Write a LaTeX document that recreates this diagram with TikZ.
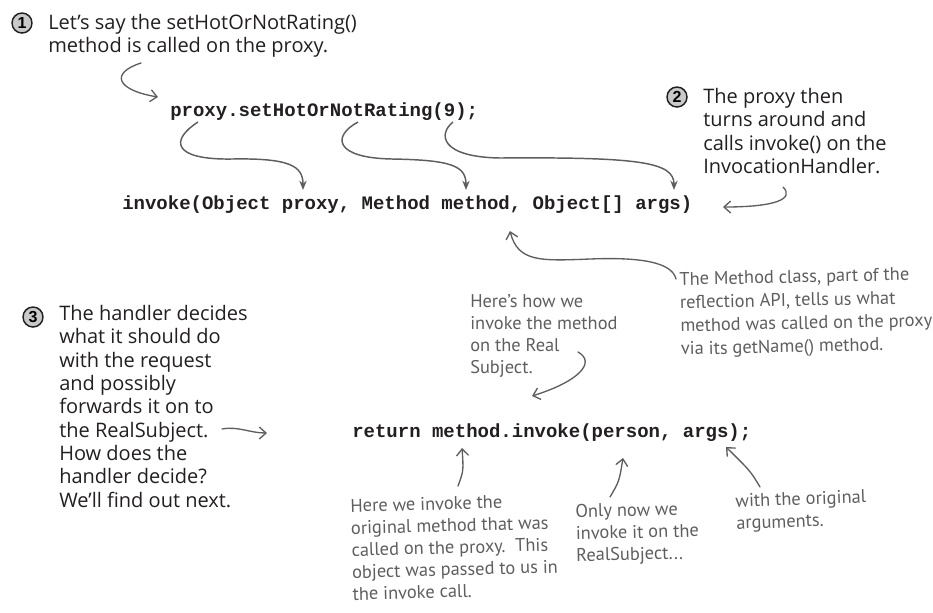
\documentclass[tikz,border=0pt]{standalone}
\usepackage{fontspec}
\usepackage{tikz}
\usetikzlibrary{arrows.meta,calc}
\setmainfont{Open Sans}
\setmonofont{Liberation Mono}
\newfontfamily\handfont{PT Sans}
\newfontfamily\stepfont{Liberation Sans}

\begin{document}
\begin{tikzpicture}[x=0.75pt,y=-0.75pt]

\definecolor{noteink}{HTML}{231F20}
\definecolor{handink}{HTML}{5E5E5E}
\definecolor{stepfill}{HTML}{C9C9C9}

\tikzset{
  stepmark/.style={
    circle, draw=noteink, fill=stepfill, line width=1.1pt,
    minimum size=15pt, inner sep=0pt, font=\stepfont\bfseries\fontsize{12}{12}\selectfont
  },
  notetext/.style={
    anchor=north west, inner sep=0pt, align=left, text=noteink,
    font=\fontsize{15}{17.5}\selectfont
  },
  handnote/.style={
    anchor=north west, inner sep=0pt, align=left, text=handink,
    font=\handfont\fontsize{13.8}{16.5}\selectfont
  },
  codeline/.style={
    anchor=west, inner sep=0pt, text=noteink,
    font=\ttfamily\bfseries\fontsize{14.25}{16}\selectfont
  },
  passedge/.style={
    draw=handink, line width=1.1pt, -{Stealth[length=7pt,width=5.5pt]}
  },
  handedge/.style={
    draw=handink, line width=1pt, line cap=round,
    -{Straight Barb[length=5pt,width=9pt]}
  }
}

\useasboundingbox (0,0) rectangle (933,612);

% Step 1: the call on the proxy.
\node[stepmark] (stepone) at (22,23) {1};
\node[notetext] (noteone) at (48,14)
  {Let’s say the setHotOrNotRating()\\method is called on the proxy.};
\node[codeline] (callline) at (170,112) {proxy.setHotOrNotRating(9);};
\coordinate (curlstart) at (141,63);
\coordinate (curlend) at (158,97);
\draw[handedge] (curlstart) .. controls (110,73) and (116,90) .. (curlend);

% The invoke() signature of the handler.
\node[codeline] (invokeline) at (122,205)
  {invoke(Object proxy, Method method, Object[] args)};

% Step 2: the proxy forwards to the InvocationHandler.
\node[stepmark] (steptwo) at (677,97) {2};
\node[notetext] (notetwo) at (703,88)
  {The proxy then\\turns around and\\calls invoke() on the\\InvocationHandler.};
\coordinate (twostart) at (783,187);
\coordinate (twoend) at (723,207);
\draw[handedge] (twostart) .. controls (795,199) and (775,207) .. (twoend);

% Each argument of the call lands in the signature.
\coordinate (fromproxy) at (198,122);
\coordinate (frommethod) at (358,122);
\coordinate (fromargs) at (453,122);
\coordinate (toproxy) at (303,190);
\coordinate (tomethod) at (466,190);
\coordinate (toargs) at (674,190);
\draw[passedge] (fromproxy) .. controls (170,140) and (172,160) .. (232,159)
  .. controls (290,158) and (303,166) .. (toproxy);
\draw[passedge] (frommethod) .. controls (332,136) and (334,158) .. (392,159)
  .. controls (452,160) and (466,166) .. (tomethod);
\draw[passedge] (fromargs) .. controls (438,134) and (440,157) .. (500,158)
  .. controls (640,157) and (674,162) .. (toargs);

% The Method class remark.
\node[handnote, rotate=1.2, font=\handfont\fontsize{13.8}{17.4}\selectfont] (methodnote) at (679,272)
  {The Method class, part of the\\reflection API, tells us what\\method was called on the proxy\\via its getName() method.};
\coordinate (methodstart) at (676,279);
\coordinate (methodend) at (510,231);
\draw[handedge] (methodstart) .. controls (672,262) and (640,257) .. (590,259)
  .. controls (540,261) and (518,262) .. (methodend);

% Step 3: the handler decides.
\node[stepmark] (stepthree) at (33,317) {3};
\node[notetext] (notethree) at (59,305)
  {The handler decides\\what it should do\\with the request\\and possibly\\forwards it on to\\the RealSubject.\\How does the\\handler decide?\\We’ll find out next.};
\node[codeline] (returnline) at (352,433) {return method.invoke(person, args);};
\coordinate (threestart) at (222,429);
\coordinate (threeend) at (267,433);
\draw[handedge] (threestart) .. controls (238,426) and (250,433) .. (threeend);

% How the real subject gets called.
\node[handnote] (realnote) at (470,294)
  {Here’s how we\\invoke the method\\on the Real\\Subject.};
\coordinate (realstart) at (578,352);
\coordinate (realend) at (532,396);
\draw[handedge] (realstart) .. controls (596,362) and (580,381) .. (realend);

% Remarks under the return statement.
\node[handnote, rotate=1.5] (personnote) at (350,499)
  {Here we invoke the\\original method that was\\called on the proxy.\ \ This\\object was passed to us in\\the invoke call.};
\node[handnote, rotate=1.2] (nownote) at (575,504)
  {Only now we\\invoke it on the\\RealSubject...};
\node[handnote, rotate=2] (argsnote) at (735,494)
  {with the original\\arguments.};
\foreach \from/\to/\fx/\fy/\tx/\ty in {
  personstart/personend/458/486/462/448,
  nowstart/nowend/610/497/623/458,
  argsstart/argsend/760/487/726/447} {
  \coordinate (\from) at (\fx,\fy);
  \coordinate (\to) at (\tx,\ty);
  \draw[handedge] (\from) .. controls ($(\from)!0.4!(\to)+(4,0)$) .. (\to);
}

\end{tikzpicture}
\end{document}
